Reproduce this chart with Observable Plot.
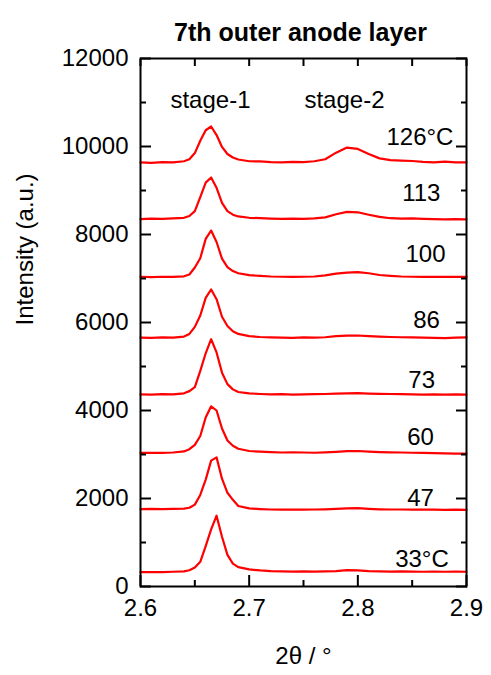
<!DOCTYPE html>
<html><head><meta charset="utf-8">
<script src="https://cdn.jsdelivr.net/npm/d3@7"></script>
<script src="https://cdn.jsdelivr.net/npm/@observablehq/plot@0.6"></script>
<style>body{margin:0;background:#fff} svg{display:block}</style>
</head><body><div id="chart"></div>
<script>
const twoTheta = [2.600, 2.610, 2.620, 2.630, 2.640, 2.645, 2.650, 2.655, 2.660, 2.665, 2.670, 2.675, 2.680, 2.685, 2.690, 2.700, 2.710, 2.720, 2.730, 2.740, 2.750, 2.760, 2.770, 2.780, 2.790, 2.800, 2.810, 2.820, 2.830, 2.840, 2.850, 2.860, 2.870, 2.880, 2.890, 2.900];
const I126 = [9640, 9630, 9645, 9640, 9665, 9710, 9850, 10130, 10370, 10455, 10260, 9990, 9830, 9750, 9705, 9665, 9660, 9645, 9640, 9650, 9645, 9665, 9710, 9860, 9975, 9945, 9830, 9730, 9690, 9680, 9670, 9650, 9640, 9655, 9640, 9640];
const I113 = [8350, 8360, 8355, 8365, 8380, 8420, 8530, 8850, 9180, 9295, 9060, 8720, 8530, 8450, 8410, 8380, 8370, 8360, 8355, 8360, 8355, 8365, 8390, 8460, 8515, 8505, 8450, 8400, 8370, 8360, 8365, 8355, 8350, 8345, 8350, 8345];
const I100 = [7040, 7030, 7040, 7035, 7050, 7090, 7250, 7460, 7900, 8090, 7830, 7450, 7260, 7170, 7120, 7075, 7060, 7045, 7040, 7035, 7040, 7045, 7070, 7110, 7135, 7145, 7120, 7080, 7060, 7045, 7040, 7035, 7040, 7035, 7040, 7035];
const I86 = [5655, 5650, 5660, 5655, 5680, 5740, 5900, 6160, 6560, 6750, 6530, 6130, 5920, 5800, 5740, 5690, 5670, 5660, 5655, 5650, 5660, 5655, 5665, 5690, 5700, 5705, 5690, 5680, 5670, 5665, 5660, 5655, 5650, 5645, 5655, 5660];
const I73 = [4365, 4360, 4370, 4365, 4390, 4440, 4530, 4900, 5300, 5620, 5320, 4860, 4600, 4480, 4420, 4390, 4375, 4365, 4370, 4360, 4365, 4370, 4375, 4385, 4390, 4395, 4385, 4380, 4375, 4370, 4365, 4360, 4365, 4360, 4365, 4360];
const I60 = [3035, 3040, 3035, 3045, 3070, 3120, 3220, 3420, 3840, 4095, 4000, 3590, 3320, 3200, 3130, 3080, 3065, 3055, 3045, 3050, 3045, 3040, 3050, 3060, 3075, 3080, 3065, 3055, 3050, 3045, 3040, 3035, 3030, 3025, 3020, 3020];
const I47 = [1760, 1765, 1760, 1765, 1770, 1790, 1860, 2080, 2430, 2860, 2935, 2450, 2130, 1970, 1830, 1775, 1760, 1750, 1745, 1750, 1745, 1750, 1755, 1765, 1775, 1780, 1765, 1755, 1750, 1750, 1745, 1750, 1745, 1740, 1745, 1740];
const I33 = [325, 330, 325, 335, 345, 370, 430, 560, 920, 1300, 1610, 1130, 720, 520, 440, 390, 365, 350, 345, 340, 345, 340, 345, 350, 370, 365, 350, 345, 340, 345, 340, 335, 340, 335, 340, 335];

const seriesNames = ["126", "113", "100", "86", "73", "60", "47", "33"];
const seriesValues = [I126, I113, I100, I86, I73, I60, I47, I33];

const tempLabels = ["126°C", "113", "100", "86", "73", "60", "47", "33°C"];
const labelX = [2.888, 2.876, 2.8807, 2.8755, 2.871, 2.870, 2.870, 2.8837];
const labelY = [10205, 8940, 7560, 6045, 4697, 3380, 2015, 607];

const stageLabels = ["stage-1", "stage-2"];
const stageX = [2.6644, 2.7877];
const stageY = [11045, 11045];

const xMajor = [2.6, 2.7, 2.8, 2.9];
const xMinor = [2.65, 2.75, 2.85];
const yMajor = [0, 2000, 4000, 6000, 8000, 10000, 12000];
const yMinor = [1000, 3000, 5000, 7000, 9000, 11000];

const titleText = "7th outer anode layer";
const xLabel = "2θ / °";
const yLabel = "Intensity (a.u.)";

const rows = seriesNames.flatMap((s, i) => twoTheta.map((x, j) => ({series: s, x, y: seriesValues[i][j]})));
const labels = tempLabels.map((t, i) => ({t, x: labelX[i], y: labelY[i]}));
const stages = stageLabels.map((t, i) => ({t, x: stageX[i], y: stageY[i]}));

const font = "'Liberation Sans', Arial, Helvetica, sans-serif";
const fmt = d => String(d);
const blank = () => "";

const chart = Plot.plot({
  width: 491, height: 675,
  marginTop: 58, marginBottom: 89, marginLeft: 140, marginRight: 25,
  style: {fontFamily: font, background: "#fff", color: "#000"},
  x: {domain: [2.6, 2.9], label: null},
  y: {domain: [0, 12000], label: null},
  marks: [
    Plot.line(rows, {x: "x", y: "y", z: "series", stroke: "#ff0000", strokeWidth: 2.2, strokeLinejoin: "round"}),
    Plot.text(labels, {x: "x", y: "y", text: "t", textAnchor: "end", fontSize: 24, fill: "#000"}),
    Plot.text(stages, {x: "x", y: "y", text: "t", textAnchor: "middle", fontSize: 24, fill: "#000"}),
    Plot.frame({stroke: "#000", strokeWidth: 2}),
    Plot.axisX(xMajor, {anchor: "bottom", tickSize: -11, tickPadding: 23, fontSize: 24, strokeWidth: 2, tickFormat: fmt, label: null, fill: "#000"}),
    Plot.axisX(xMinor, {anchor: "bottom", tickSize: -6, tickFormat: blank, strokeWidth: 2, label: null}),
    Plot.axisX(xMajor.concat(xMinor), {anchor: "top", tickSize: -7, tickFormat: blank, strokeWidth: 2, label: null}),
    Plot.axisY(yMajor, {anchor: "left", tickSize: -11, tickPadding: 23, fontSize: 24, strokeWidth: 2, tickFormat: fmt, label: null, fill: "#000"}),
    Plot.axisY(yMinor, {anchor: "left", tickSize: -6, tickFormat: blank, strokeWidth: 2, label: null}),
    Plot.axisY(yMajor, {anchor: "right", tickSize: -11, tickFormat: blank, strokeWidth: 2, label: null}),
    Plot.axisY(yMinor, {anchor: "right", tickSize: -6, tickFormat: blank, strokeWidth: 2, label: null}),
    Plot.text([titleText], {frameAnchor: "top", dx: -3, dy: -35, fontSize: 25, fontWeight: "bold", fill: "#000"}),
    Plot.text([xLabel], {frameAnchor: "bottom", dy: 77, fontSize: 24, fill: "#000"}),
    Plot.text([yLabel], {frameAnchor: "left", dx: -115, dy: 3, rotate: -90, fontSize: 24, fill: "#000"})
  ]
});
document.getElementById("chart").appendChild(chart);
</script>
</body></html>
